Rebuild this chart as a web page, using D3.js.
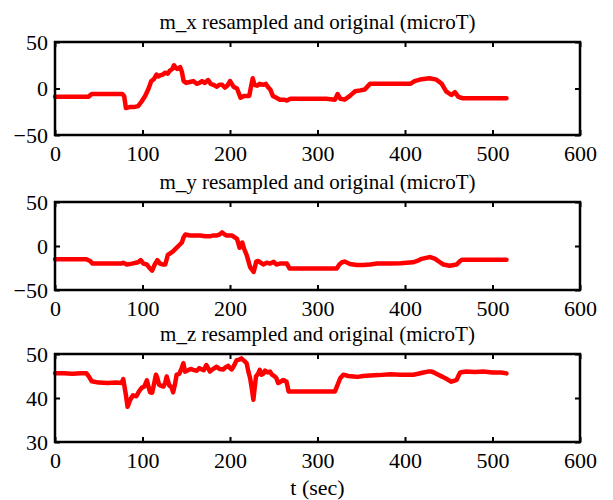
<!DOCTYPE html>
<html><head><meta charset="utf-8">
<script src="https://cdn.jsdelivr.net/npm/d3@7"></script>
<style>body{margin:0;background:#fff}svg{display:block}</style>
</head><body>
<script>
const titles = ["m_x resampled and original (microT)", "m_y resampled and original (microT)", "m_z resampled and original (microT)"];
const xLabel = "t (sec)";
const xTicks = [0, 100, 200, 300, 400, 500, 600];
const yTicksX = [-50, 0, 50];
const yTicksY = [-50, 0, 50];
const yTicksZ = [30, 40, 50];

const tX = [0,10,20,30,38,42,50,60,70,77,79,81,85,90,95,99,103,107,110,113,116,118,120,123,126,129,131,134,136,138,140,143,145,147,150,154,158,162,165,168,171,175,178,181,185,188,191,194,197,200,202,204,208,212,216,219,222,224,226,228,231,234,238,241,243,246,249,253,257,262,265,269,280,290,300,310,320,323,326,331,337,343,349,354,357,360,370,380,390,400,406,411,419,428,436,442,447,453,457,461,466,480,500,516];
const mX = [-9,-9,-9,-9,-9,-6,-6,-6,-6,-6,-8,-21,-20,-20,-19,-14,-8,0,8,10,15,13,14,15,17,16,19,21,25,22,21,23,18,8,6,7,8,5,6,8,6,9,5,4,2,4,4,1,3,8,5,2,0,-10,-8,-8,-8,2,11,4,3,5,4,5,2,-1,-8,-10,-12,-12,-13,-11,-11,-11,-11,-11,-12,-6,-11,-12,-8,-3,-2,-1,2,5,5,5,5,5,5,8,10,11,9.5,5,-3,-7,-4,-9,-10.5,-10.5,-10.5,-10.5];

const tY = [0,10,20,30,36,40,43,50,60,70,76,78,82,88,95,98,101,105,108,111,114,117,120,123,126,129,132,135,138,141,145,147,149,154,160,166,172,177,181,185,188,191,194,196,202,205,208,211,214,216,219,223,227,230,232,235,238,242,246,250,253,257,261,265,268,280,300,322,325,328,331,337,345,352,360,368,383,395,409,414,419,424,429,433,436,440,444,451,459,462,465,470,490,516];
const mY = [-15,-15,-15,-15,-15,-17,-20,-20,-20,-20,-20,-19,-21,-20,-18.5,-16,-20,-21,-25,-28,-21,-16,-20,-21,-21,-10,-8,-6,-3,0,4,10,13,12,12,12,11,11,12,12,13,15.5,13,12,12,10,8,-2,4,-3,-10,-24,-29.5,-17.7,-17,-19,-21,-19,-20,-18,-21,-20,-20,-20,-25.5,-25.5,-25.5,-25.5,-21,-18.5,-17.7,-20.5,-21.5,-21.7,-21,-20,-20,-19.5,-18.5,-17,-14.6,-13.5,-12.6,-14,-15.7,-18.5,-21,-22.4,-21,-18,-15.7,-15.7,-15.7,-15.7];

const tZ = [0,10,20,30,36,39,42,50,60,70,76,78,81,83,86,89,93,96,99,102,105,108.6,111,113,115.4,117,119,121,124,126,127.6,130.7,133,135,137,139,142,144.8,146.7,148.6,152,155,158,162,165,167.6,170,173,175,177,180,184.8,188,192.4,195,198,200,202,205,207.6,210,213,216,219,221,223,225,226.7,228,229.7,232,234,236,238,240,243,245.7,248,251,253,255,258,261,264.6,267,280,290,300,310,320,323.8,326,329.5,335,341,346,352,360,370,383,395,409.5,415,421,426,430.5,434,438,443,447.6,453,456,459,461,463,470,480,489.5,500,510,516];
const mZ = [45.6,45.6,45.5,45.6,45.6,44.8,43.8,43.5,43.4,43.5,43.4,44.3,40.7,38,39.6,40.6,40.4,41.5,42.3,42.6,44,41.3,41.2,43,45.3,44.5,43,42.8,42.6,43.5,44.9,42.8,42.5,41.3,43,45.3,45.5,46.8,47.9,46,46.3,46.6,46.4,46.2,46.8,46.5,46.3,47.5,46.8,46,46.5,47.1,46.6,46.5,47,47.3,46.8,46.5,47.5,48.6,48.7,49,48.5,47.9,46,44.5,42,39.6,42,44.9,45.5,46.4,45.3,45.5,46.2,45.8,46,45.3,44.9,44.5,43.4,43.7,44.1,43.7,41.5,41.5,41.5,41.5,41.5,41.5,43.4,44.5,45.3,45,44.9,44.8,45,45.1,45.2,45.4,45.3,45.3,45.5,45.8,46,46,45.7,45.3,44.8,44.3,43.7,43.9,44.1,45,45.8,46,45.9,46,45.8,45.8,45.6];

const W = 613, H = 500;
const svg = d3.select("body").append("svg").attr("width", W).attr("height", H);
const font = "'Liberation Serif','Times New Roman',serif";

const panels = [
  {title: titles[0], t: tX, v: mX, dom: [-50, 50], ticks: yTicksX, top: 42, bottom: 135},
  {title: titles[1], t: tY, v: mY, dom: [-50, 50], ticks: yTicksY, top: 202, bottom: 290},
  {title: titles[2], t: tZ, v: mZ, dom: [30, 50], ticks: yTicksZ, top: 354, bottom: 442}
];
const left = 55, right = 580;
const x = d3.scaleLinear().domain([0, 600]).range([left, right]);

panels.forEach((p, i) => {
  const y = d3.scaleLinear().domain(p.dom).range([p.bottom, p.top]);
  const g = svg.append("g");
  const data = p.t.map((t, k) => [t, p.v[k]]);
  const line = d3.line().x(d => x(d[0])).y(d => y(d[1]));
  g.append("path").datum(data).attr("d", line).attr("fill", "none")
    .attr("stroke", "#3030ff").attr("stroke-width", 1.5);
  g.append("path").datum(data).attr("d", line).attr("fill", "none")
    .attr("stroke", "#ff0000").attr("stroke-width", 4.5)
    .attr("stroke-linejoin", "round").attr("stroke-linecap", "round");

  const ax = (sel) => sel.selectAll("path.domain").remove();
  const bAx = g.append("g").attr("transform", `translate(0,${p.bottom})`)
    .call(d3.axisBottom(x).tickValues(xTicks).tickSizeInner(-5).tickSizeOuter(0).tickPadding(6).tickFormat(d3.format("d")));
  const tAx = g.append("g").attr("transform", `translate(0,${p.top})`)
    .call(d3.axisTop(x).tickValues(xTicks).tickSizeInner(-5).tickSizeOuter(0).tickFormat(""));
  const lAx = g.append("g").attr("transform", `translate(${left},0)`)
    .call(d3.axisLeft(y).tickValues(p.ticks).tickSizeInner(-5).tickSizeOuter(0).tickPadding(7).tickFormat(d => d < 0 ? "\u2212" + Math.abs(d) : d));
  const rAx = g.append("g").attr("transform", `translate(${right},0)`)
    .call(d3.axisRight(y).tickValues(p.ticks).tickSizeInner(-5).tickSizeOuter(0).tickFormat(""));
  [bAx, tAx, lAx, rAx].forEach(a => {
    ax(a);
    a.selectAll("line").attr("stroke", "#000").attr("stroke-width", 2);
    a.selectAll("text").attr("font-family", font).attr("font-size", 22).attr("fill", "#000");
  });
  bAx.selectAll("text").attr("dy", "0.9em");
  g.append("rect").attr("x", left).attr("y", p.top).attr("width", right - left).attr("height", p.bottom - p.top)
    .attr("fill", "none").attr("stroke", "#000").attr("stroke-width", 2.5);
  svg.append("text").attr("x", (left + right) / 2).attr("y", p.top - 13)
    .attr("text-anchor", "middle").attr("font-family", font).attr("font-size", 21).text(p.title);
});
svg.append("text").attr("x", (left + right) / 2).attr("y", 495).attr("text-anchor", "middle")
  .attr("font-family", font).attr("font-size", 22).text(xLabel);
</script>
</body></html>
